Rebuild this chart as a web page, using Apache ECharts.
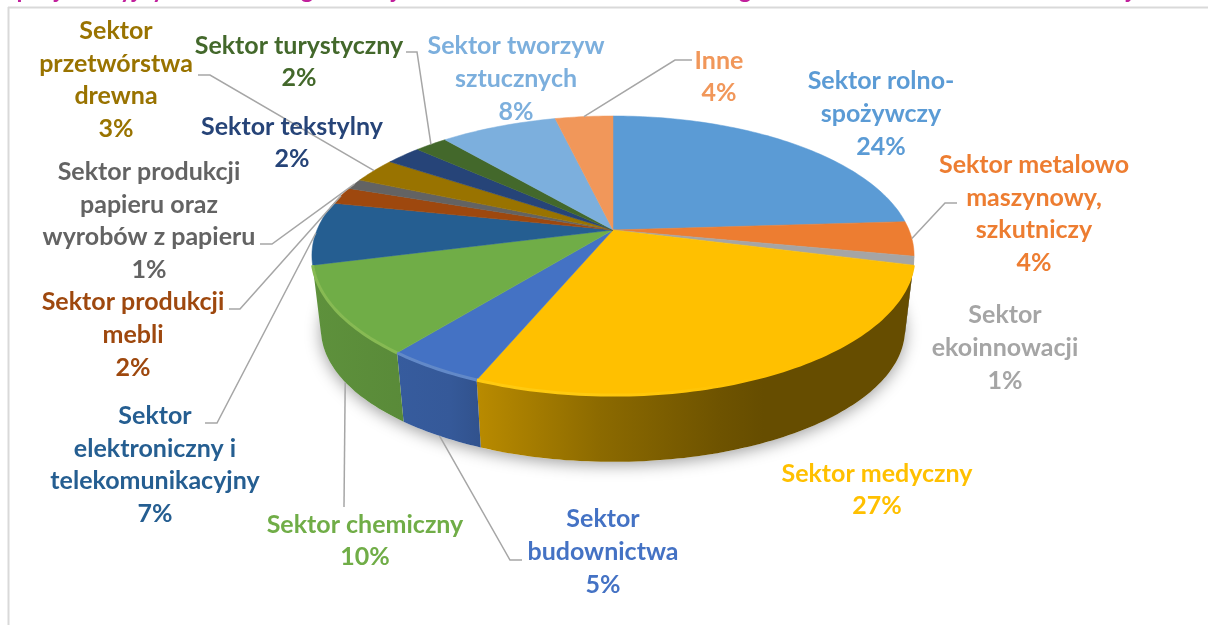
<!DOCTYPE html>
<html>
<head>
<meta charset="utf-8">
<style>
html, body { margin: 0; padding: 0; background: #fff; }
#chart { width: 1208px; height: 625px; }
</style>
</head>
<body>
<div id="chart"></div>
<script src="https://cdn.jsdelivr.net/npm/echarts@6/dist/echarts.min.js"></script>
<script>
// dane wykresu
var sektorNames = [
    'Sektor rolno-\nspożywczy',
    'Sektor metalowo\nmaszynowy,\nszkutniczy',
    'Sektor\nekoinnowacji',
    'Sektor medyczny',
    'Sektor\nbudownictwa',
    'Sektor chemiczny',
    'Sektor\nelektroniczny i\ntelekomunikacyjny',
    'Sektor produkcji\nmebli',
    'Sektor produkcji\npapieru oraz\nwyrobów z papieru',
    'Sektor\nprzetwórstwa\ndrewna',
    'Sektor tekstylny',
    'Sektor turystyczny',
    'Sektor tworzyw\nsztucznych',
    'Inne'
];
var sektorValues = [24, 4, 1, 27.25, 4.5, 10.25, 7.3, 2, 1.2, 2.9, 2.3, 2.1, 7.5, 3.7];
var sektorColors = ['#5B9BD5', '#ED7D31', '#A5A5A5', '#FFC000', '#4472C4', '#70AD47', '#255E91',
    '#9E480E', '#636363', '#997300', '#264478', '#43682B', '#7CAFDD', '#F1975A'];
var titleText = 'specjalizacyjny w ramach regionalnej strukturze oraz sektorów strategii w ostatnich latach na terenie całej';

// uklad etykiet: srodek tekstu
var labelPos = [[881, 114], [1034, 214], [1005, 348], [877, 490], [603, 552], [365, 541], [155, 465],
    [133, 335], [149, 221], [116, 80], [292, 143], [299, 62], [516, 79], [719, 77]];
// linie odniesienia: koniec przy etykiecie, kolanko, krawedz (top / bottom)
var leaders = {
    1: [[957, 203], [945, 203], 'top'],
    4: [[522, 560], [510, 560], 'bottom'],
    5: [[344, 507], [344, 507], 'bottom'],
    6: [[205, 423], [217, 423], 'top'],
    7: [[229, 309], [240, 309], 'top'],
    8: [[260, 244], [272, 244], 'top'],
    9: [[198, 75], [210, 75], 'top'],
    11: [[406, 52], [417, 52], 'top'],
    13: [[692, 60], [675, 60], 'top']
};

// geometria tarczy (rzut perspektywiczny okregu)
var cx = 613, cy = 230, rx = 296, ry = 134.9, persp = 0.183;
var bottomCy = 305, bottomX = 0.97, bottomY = 0.95;
var total = sektorValues.reduce(function (a, b) { return a + b; }, 0);

function sliceAngles(i) {
    var sum = 0;
    for (var k = 0; k < i; k++) sum += sektorValues[k];
    return [sum / total * Math.PI * 2, (sum + sektorValues[i]) / total * Math.PI * 2];
}
function topPoint(t) {
    var f = -Math.cos(t), d = 1 - persp * f;
    return [cx + rx * Math.sin(t) / d, cy + ry * f / d];
}
function bottomPoint(t) {
    var f = -Math.cos(t), d = 1 - persp * f;
    return [cx + bottomX * rx * Math.sin(t) / d, bottomCy + bottomY * ry * f / d];
}
function arc(fn, a, b) {
    var pts = [], n = Math.max(2, Math.ceil((b - a) / 0.02));
    for (var j = 0; j <= n; j++) pts.push(fn(a + (b - a) * j / n));
    return pts;
}
function shade(hex, k) {
    var c = echarts.color.parse(hex);
    return 'rgb(' + Math.min(255, Math.round(c[0] * k)) + ',' + Math.min(255, Math.round(c[1] * k)) + ',' + Math.min(255, Math.round(c[2] * k)) + ')';
}
function lighten(hex, k) {
    var c = echarts.color.parse(hex);
    return 'rgb(' + Math.round(c[0] + (255 - c[0]) * k) + ',' + Math.round(c[1] + (255 - c[1]) * k) + ',' + Math.round(c[2] * 1 + (255 - c[2]) * k * 0.4) + ')';
}
// sciana boczna ciemnieje w prawo
function wallFill(hex) {
    var stops = [[0, 0.84], [0.228, 0.78], [0.278, 0.72], [0.477, 0.55], [0.677, 0.43], [0.75, 0.4], [1, 0.4]];
    return {
        type: 'linear', x: 313, y: 0, x2: 914, y2: 0, global: true,
        colorStops: stops.map(function (s) { return { offset: s[0], color: shade(hex, s[1]) }; })
    };
}
function rimStroke(hex) {
    return {
        type: 'linear', x: 313, y: 0, x2: 914, y2: 0, global: true,
        colorStops: [
            { offset: 0, color: lighten(hex, 0.16) },
            { offset: 0.45, color: lighten(hex, 0.16) },
            { offset: 0.75, color: hex },
            { offset: 1, color: hex }
        ]
    };
}

// widoczna czesc sciany bocznej
var wallMin = Math.PI * 0.56, wallMax = Math.PI * 1.42;

function renderShadow() {
    return {
        type: 'polygon',
        shape: { points: arc(bottomPoint, 0, Math.PI * 2) },
        style: { fill: '#fff', shadowBlur: 16, shadowColor: 'rgba(0,0,0,0.38)', shadowOffsetX: 0, shadowOffsetY: 3 }
    };
}
function renderWall(params) {
    var i = params.dataIndex, ang = sliceAngles(i);
    var a = Math.max(ang[0], wallMin), b = Math.min(ang[1], wallMax);
    if (b <= a) return { type: 'group', children: [] };
    var pts = arc(topPoint, a, b).concat(arc(bottomPoint, a, b).reverse());
    return { type: 'polygon', shape: { points: pts }, style: { fill: wallFill(sektorColors[i]) } };
}
function renderTop(params) {
    var i = params.dataIndex, ang = sliceAngles(i);
    var pts = [[cx, cy]].concat(arc(topPoint, ang[0], ang[1]));
    return {
        type: 'polygon',
        shape: { points: pts },
        style: { fill: sektorColors[i], stroke: sektorColors[i], lineWidth: 0.5 }
    };
}
function renderRim(params) {
    var i = params.dataIndex, ang = sliceAngles(i);
    var a = Math.max(ang[0], Math.PI * 0.58), b = Math.min(ang[1], Math.PI * 1.42);
    if (b <= a) return { type: 'group', children: [] };
    return {
        type: 'polyline',
        shape: { points: arc(topPoint, a, b) },
        style: { fill: null, stroke: rimStroke(sektorColors[i]), lineWidth: 3 }
    };
}
function renderLabel(params) {
    var i = params.dataIndex, kids = [];
    var ang = sliceAngles(i), mid = (ang[0] + ang[1]) / 2;
    var lead = leaders[i];
    if (lead) {
        var rim = lead[2] === 'bottom' ? bottomPoint(mid) : topPoint(mid);
        kids.push({
            type: 'polyline',
            shape: { points: [lead[0], lead[1], rim] },
            style: { fill: null, stroke: '#A6A6A6', lineWidth: 1.5 }
        });
    }
    kids.push({
        type: 'text',
        x: labelPos[i][0],
        y: labelPos[i][1],
        style: {
            text: sektorNames[i] + '\n' + Math.round(sektorValues[i]) + '%',
            fill: sektorColors[i],
            font: 'bold 25px Lato',
            lineHeight: 32.6,
            align: 'center',
            verticalAlign: 'middle'
        }
    });
    return { type: 'group', children: kids };
}

function customSeries(fn, z) {
    return {
        type: 'custom',
        coordinateSystem: 'none',
        renderItem: fn,
        silent: true,
        z: z,
        clip: false,
        data: sektorValues
    };
}

var myChart = echarts.init(document.getElementById('chart'));
myChart.setOption({
    animation: false,
    backgroundColor: '#fff',
    graphic: [
        { type: 'line', shape: { x1: 8.5, y1: 7, x2: 8.5, y2: 625 }, style: { stroke: '#D9D9D9', lineWidth: 2 }, z: 1 },
        { type: 'line', shape: { x1: 8, y1: 7.5, x2: 1208, y2: 7.5 }, style: { stroke: '#D9D9D9', lineWidth: 2 }, z: 1 },
        { type: 'text', x: 6, y: 2, style: { text: titleText, fill: '#C1209C', font: 'bold 24px Lato', verticalAlign: 'bottom' }, z: 1 }
    ],
    series: [
        { type: 'custom', coordinateSystem: 'none', renderItem: renderShadow, silent: true, z: 2, data: [1] },
        customSeries(renderWall, 3),
        customSeries(renderTop, 4),
        customSeries(renderRim, 5),
        customSeries(renderLabel, 6)
    ]
});
</script>
</body>
</html>
